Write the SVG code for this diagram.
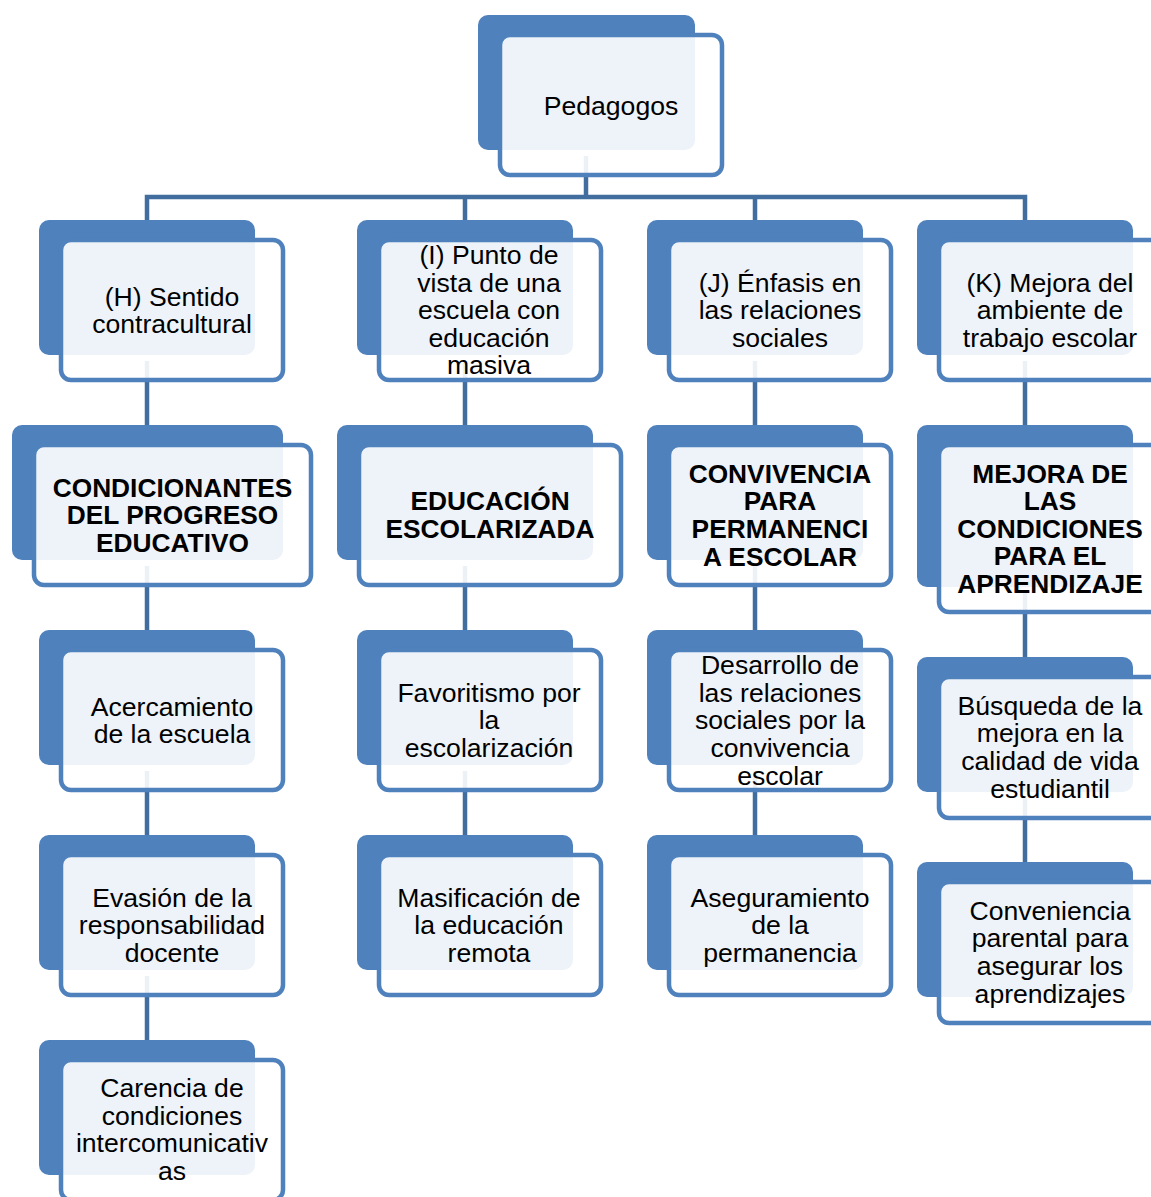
<svg xmlns="http://www.w3.org/2000/svg" width="1151" height="1197" viewBox="0 0 1151 1197">
<style>
.back{fill:#4f81bd}
.front{fill:#ffffff;fill-opacity:0.9;stroke:#4f81bd;stroke-width:4.5}
.conn{fill:none;stroke:#416d9f;stroke-width:4.5}
text{font-family:"Liberation Sans",Arial,sans-serif;font-size:26.6px;fill:#000;text-anchor:middle}
.b{font-weight:bold;font-size:26.3px}
</style>
<rect width="1151" height="1197" fill="#ffffff"/>
<g id="connectors">
<path class="conn" d="M586,156V197"/>
<path class="conn" d="M147,220V197H1025V220M465,197V220M755,197V220"/>
<path class="conn" d="M147,361V425M147,566V630M147,771V835M147,976V1040"/>
<path class="conn" d="M465,361V425M465,566V630M465,771V835"/>
<path class="conn" d="M755,361V425M755,566V630M755,771V835"/>
<path class="conn" d="M1025,361V425M1025,593V657M1025,798V862"/>
</g>
<g id="n-root"><rect class="back" x="478" y="15" width="217" height="135" rx="10"/><rect class="front" x="500" y="35" width="222" height="140" rx="10"/><text x="611" y="115">Pedagogos</text></g>

<g id="n-h"><rect class="back" x="39" y="220" width="216" height="135" rx="10"/><rect class="front" x="61" y="240" width="222" height="140" rx="10"/><text x="172" y="306">(H) Sentido</text><text x="172" y="333">contracultural</text></g>
<g id="n-h2"><rect class="back" x="12" y="425" width="271" height="135" rx="10"/><rect class="front" x="34" y="445" width="277" height="140" rx="10"/><text class="b" x="172.5" y="497">CONDICIONANTES</text><text class="b" x="172.5" y="524">DEL PROGRESO</text><text class="b" x="172.5" y="552">EDUCATIVO</text></g>
<g id="n-h3"><rect class="back" x="39" y="630" width="216" height="135" rx="10"/><rect class="front" x="61" y="650" width="222" height="140" rx="10"/><text x="172" y="716">Acercamiento</text><text x="172" y="743">de la escuela</text></g>
<g id="n-h4"><rect class="back" x="39" y="835" width="216" height="135" rx="10"/><rect class="front" x="61" y="855" width="222" height="140" rx="10"/><text x="172" y="907">Evasión de la</text><text x="172" y="934">responsabilidad</text><text x="172" y="962">docente</text></g>
<g id="n-h5"><rect class="back" x="39" y="1040" width="216" height="135" rx="10"/><rect class="front" x="61" y="1060" width="222" height="140" rx="10"/><text x="172" y="1097">Carencia de</text><text x="172" y="1125">condiciones</text><text x="172" y="1152">intercomunicativ</text><text x="172" y="1180">as</text></g>

<g id="n-i"><rect class="back" x="357" y="220" width="216" height="135" rx="10"/><rect class="front" x="379" y="240" width="222" height="140" rx="10"/><text x="489" y="264">(I) Punto de</text><text x="489" y="292">vista de una</text><text x="489" y="319">escuela con</text><text x="489" y="347">educación</text><text x="489" y="374">masiva</text></g>
<g id="n-i2"><rect class="back" x="337" y="425" width="256" height="135" rx="10"/><rect class="front" x="359" y="445" width="262" height="140" rx="10"/><text class="b" x="490" y="510">EDUCACIÓN</text><text class="b" x="490" y="538">ESCOLARIZADA</text></g>
<g id="n-i3"><rect class="back" x="357" y="630" width="216" height="135" rx="10"/><rect class="front" x="379" y="650" width="222" height="140" rx="10"/><text x="489" y="702">Favoritismo por</text><text x="489" y="729">la</text><text x="489" y="757">escolarización</text></g>
<g id="n-i4"><rect class="back" x="357" y="835" width="216" height="135" rx="10"/><rect class="front" x="379" y="855" width="222" height="140" rx="10"/><text x="489" y="907">Masificación de</text><text x="489" y="934">la educación</text><text x="489" y="962">remota</text></g>

<g id="n-j"><rect class="back" x="647" y="220" width="216" height="135" rx="10"/><rect class="front" x="669" y="240" width="222" height="140" rx="10"/><text x="780" y="292">(J) Énfasis en</text><text x="780" y="319">las relaciones</text><text x="780" y="347">sociales</text></g>
<g id="n-j2"><rect class="back" x="647" y="425" width="216" height="135" rx="10"/><rect class="front" x="669" y="445" width="222" height="140" rx="10"/><text class="b" x="780" y="483">CONVIVENCIA</text><text class="b" x="780" y="510">PARA</text><text class="b" x="780" y="538">PERMANENCI</text><text class="b" x="780" y="566">A ESCOLAR</text></g>
<g id="n-j3"><rect class="back" x="647" y="630" width="216" height="135" rx="10"/><rect class="front" x="669" y="650" width="222" height="140" rx="10"/><text x="780" y="674">Desarrollo de</text><text x="780" y="702">las relaciones</text><text x="780" y="729">sociales por la</text><text x="780" y="757">convivencia</text><text x="780" y="785">escolar</text></g>
<g id="n-j4"><rect class="back" x="647" y="835" width="216" height="135" rx="10"/><rect class="front" x="669" y="855" width="222" height="140" rx="10"/><text x="780" y="907">Aseguramiento</text><text x="780" y="934">de la</text><text x="780" y="962">permanencia</text></g>

<g id="n-k"><rect class="back" x="917" y="220" width="216" height="135" rx="10"/><rect class="front" x="939" y="240" width="222" height="140" rx="10"/><text x="1050" y="292">(K) Mejora del</text><text x="1050" y="319">ambiente de</text><text x="1050" y="347">trabajo escolar</text></g>
<g id="n-k2"><rect class="back" x="917" y="425" width="216" height="162" rx="10"/><rect class="front" x="939" y="445" width="222" height="167" rx="10"/><text class="b" x="1050" y="483">MEJORA DE</text><text class="b" x="1050" y="510">LAS</text><text class="b" x="1050" y="538">CONDICIONES</text><text class="b" x="1050" y="565">PARA EL</text><text class="b" x="1050" y="593">APRENDIZAJE</text></g>
<g id="n-k3"><rect class="back" x="917" y="657" width="216" height="135" rx="10"/><rect class="front" x="939" y="677" width="222" height="141" rx="10"/><text x="1050" y="715">Búsqueda de la</text><text x="1050" y="742">mejora en la</text><text x="1050" y="770">calidad de vida</text><text x="1050" y="798">estudiantil</text></g>
<g id="n-k4"><rect class="back" x="917" y="862" width="216" height="135" rx="10"/><rect class="front" x="939" y="882" width="222" height="141" rx="10"/><text x="1050" y="920">Conveniencia</text><text x="1050" y="947">parental para</text><text x="1050" y="975">asegurar los</text><text x="1050" y="1003">aprendizajes</text></g>
</svg>
